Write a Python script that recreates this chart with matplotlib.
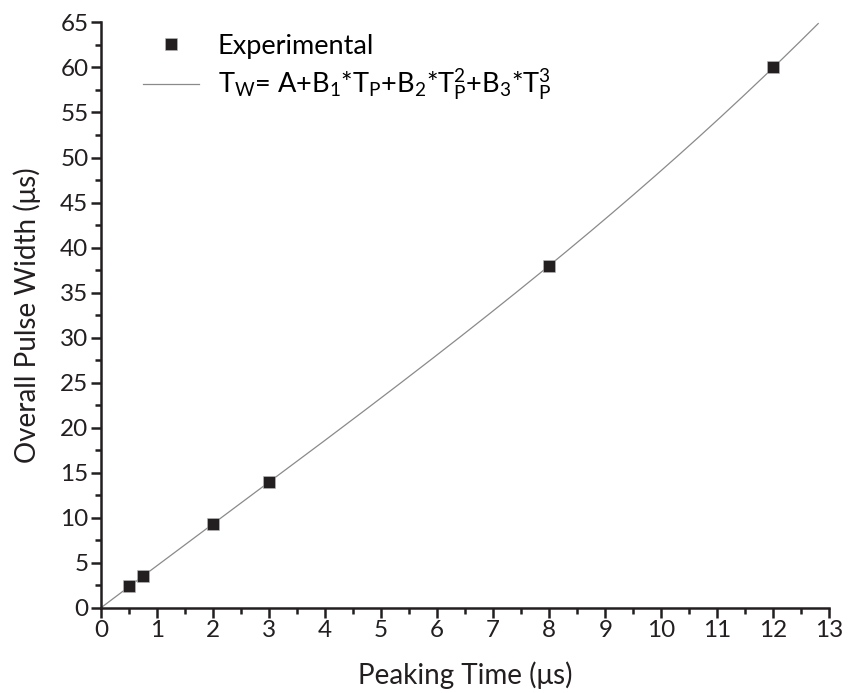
import numpy as np
import matplotlib.pyplot as plt
from matplotlib.ticker import MultipleLocator

plt.rcParams['font.family'] = ['Lato', 'DejaVu Sans']
plt.rcParams['mathtext.fontset'] = 'custom'
plt.rcParams['mathtext.rm'] = 'Lato'
plt.rcParams['mathtext.it'] = 'Lato'

# experimental points
peaking_time = [0.5, 0.75, 2, 3, 8, 12]
pulse_width = [2.4, 3.5, 9.3, 14.0, 38.0, 60.0]

# cubic fit T_W = A + B1*Tp + B2*Tp^2 + B3*Tp^3
coeffs = np.polyfit(peaking_time, pulse_width, 3)
fit_x = np.linspace(0, 12.8, 200)
fit_y = np.polyval(coeffs, fit_x)

ink = '#231f20'
fs_tick = 17.5
fs_label = 20
fs_leg = 19.5

fig = plt.figure(figsize=(8.52, 6.93), dpi=100)
ax = fig.add_axes([0.1185, 0.1227, 0.855, 0.845])

ax.plot(fit_x, fit_y, color='#8a8a8a', lw=0.9,
        label=r'$\mathregular{T_W}$= A+B$\mathregular{_1}$*T$\mathregular{_P}$+B$\mathregular{_2}$*T$\mathregular{_P^2}$+B$\mathregular{_3}$*T$\mathregular{_P^3}$')
ax.plot(peaking_time, pulse_width, 's', color=ink, ms=8.5,
        mec='#bbbbbb', mew=0.4, label='Experimental', zorder=3)

ax.set_xlim(0, 13)
ax.set_ylim(0, 65)
ax.xaxis.set_major_locator(MultipleLocator(1))
ax.xaxis.set_minor_locator(MultipleLocator(0.5))
ax.yaxis.set_major_locator(MultipleLocator(5))
ax.yaxis.set_minor_locator(MultipleLocator(2.5))

for s in ['top', 'right']:
    ax.spines[s].set_visible(False)
for s in ['left', 'bottom']:
    ax.spines[s].set_linewidth(1.8)
    ax.spines[s].set_color(ink)

ax.tick_params(which='major', direction='out', length=7, width=1.8,
               labelsize=fs_tick, colors=ink, pad=2)
ax.tick_params(which='minor', direction='out', length=4.5, width=1.8,
               colors=ink)

ax.set_xlabel('Peaking Time (μs)', fontsize=fs_label, color=ink, labelpad=14)
ax.set_ylabel('Overall Pulse Width (μs)', fontsize=fs_label, color=ink, labelpad=14)

handles, labels = ax.get_legend_handles_labels()
ax.legend(handles[::-1], labels[::-1], loc='upper left', frameon=False,
          fontsize=fs_leg, bbox_to_anchor=(0.058, 0.981), borderaxespad=0,
          borderpad=0, handlelength=2.05, handletextpad=0.7, labelspacing=0.3)

fig.savefig('out.png', dpi=100, facecolor='white')
